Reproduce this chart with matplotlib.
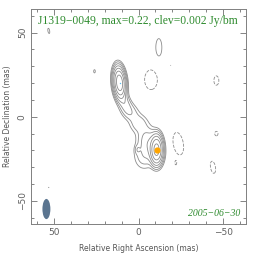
import numpy as np
import matplotlib
matplotlib.use('Agg')
import matplotlib.pyplot as plt
from matplotlib.patches import Ellipse

# image components (mas, Jy/bm): x, y, peak, sigma_x, sigma_y, position angle (deg)
comp_x = [11.2, 8.5, 5.0, 0.0, -10.7, -6.5, -3.0, 0.5,
          -12.0, 26.0, -19.0, 53.0, 53.0,
          -7.4, -46.0, -46.0, -44.0, -23.5, -22.0]
comp_y = [20.2, 9.0, 3.0, -4.0, -19.6, -16.0, -23.0, -19.5,
          41.0, 27.0, 30.5, 51.0, -42.0,
          22.0, 21.5, -10.0, -30.0, -16.0, -27.5]
comp_peak = [0.22, 0.012, 0.0065, 0.006, 0.17, 0.014, 0.006, 0.005,
             0.003, 0.0024, 0.00205, 0.0023, 0.00205,
             -0.003, -0.0026, -0.0024, -0.0026, -0.003, -0.00205]
comp_sx = [1.7, 2.0, 2.8, 3.2, 1.8, 3.5, 3.5, 1.0,
           2.0, 0.8, 0.5, 1.0, 0.4,
           4.2, 2.0, 1.6, 2.0, 3.3, 0.6]
comp_sy = [4.4, 4.5, 3.8, 3.2, 4.2, 6.0, 5.0, 1.6,
           6.0, 1.6, 0.8, 3.0, 1.0,
           6.5, 3.8, 2.2, 5.0, 7.5, 1.5]
comp_pa = [5, 20, 40, 30, 0, 20, 0, 0,
           0, 0, 0, 10, 20,
           0, 0, 0, 10, 10, 0]

clev = 0.002
peak_pos = (11.2, 20.2)
core_pos = (-10.7, -19.6)
beam = (54.4, -54.8, 4.7, 12.0, 0)

title = 'J1319\u22120049, max=0.22, clev=0.002 Jy/bm'
date = '2005\u221206\u221230'

xs = np.linspace(-66, 66, 529)
X, Y = np.meshgrid(xs, xs)
img = np.zeros_like(X)
for x0, y0, a, sx, sy, pa in zip(comp_x, comp_y, comp_peak, comp_sx, comp_sy, comp_pa):
    t = np.deg2rad(pa)
    dx = X - x0
    dy = Y - y0
    u = dx * np.cos(t) - dy * np.sin(t)
    v = dx * np.sin(t) + dy * np.cos(t)
    img += a * np.exp(-0.5 * ((u / sx) ** 2 + (v / sy) ** 2))

levels = [-clev] + [clev * 2 ** n for n in range(7)]

fig = plt.figure(figsize=(2.64, 2.62), dpi=100)
ax = fig.add_axes([31 / 264, 1 - 224 / 262, 215 / 264, 215 / 262])
cs = ax.contour(X, Y, img, levels=levels, colors='#8c8c8c', linewidths=0.6)
cs.set_linestyles(['--'] + ['-'] * 7)

ax.plot(*peak_pos, marker='.', color='#55bbee', ms=2, mew=0)
ax.plot(*core_pos, marker='o', color='#ffa500', ms=4.5, mew=0)
ax.add_patch(Ellipse(beam[:2], beam[2], beam[3], angle=beam[4], fc='#5b7590', ec='none'))

ax.set_xlim(63.5, -63.5)
ax.set_ylim(-63.7, 64)
ax.set_xticks([50, 0, -50])
ax.set_xticklabels(['50', '0', '\u221250'])
ax.set_yticks([50, 0, -50])
ax.set_yticklabels(['50', '0', '\u221250'], rotation=90, va='center')
ax.set_xticks(np.arange(-60, 61, 10), minor=True)
ax.set_yticks(np.arange(-60, 61, 10), minor=True)
ax.tick_params(which='both', direction='in', top=True, right=True, colors='#707070',
               labelcolor='#606060', labelsize=6.5, width=0.6, pad=3)
ax.tick_params(which='major', length=4)
ax.tick_params(which='minor', length=2)
for s in ax.spines.values():
    s.set_color('#808080')
    s.set_linewidth(0.7)

ax.set_xlabel('Relative Right Ascension (mas)', fontsize=5.5, color='#555555', labelpad=5)
ax.set_ylabel('Relative Declination (mas)', fontsize=5.5, color='#555555', labelpad=4)

ax.text(0.033, 0.945, title, transform=ax.transAxes, fontsize=8.4, color='#2e8b2e',
        family='Liberation Serif', va='center', ha='left')
ax.text(0.975, 0.048, date, transform=ax.transAxes, fontsize=7.0, color='#2e8b2e',
        family='Liberation Serif', style='italic', va='center', ha='right')

fig.savefig('out.png', dpi=100)
